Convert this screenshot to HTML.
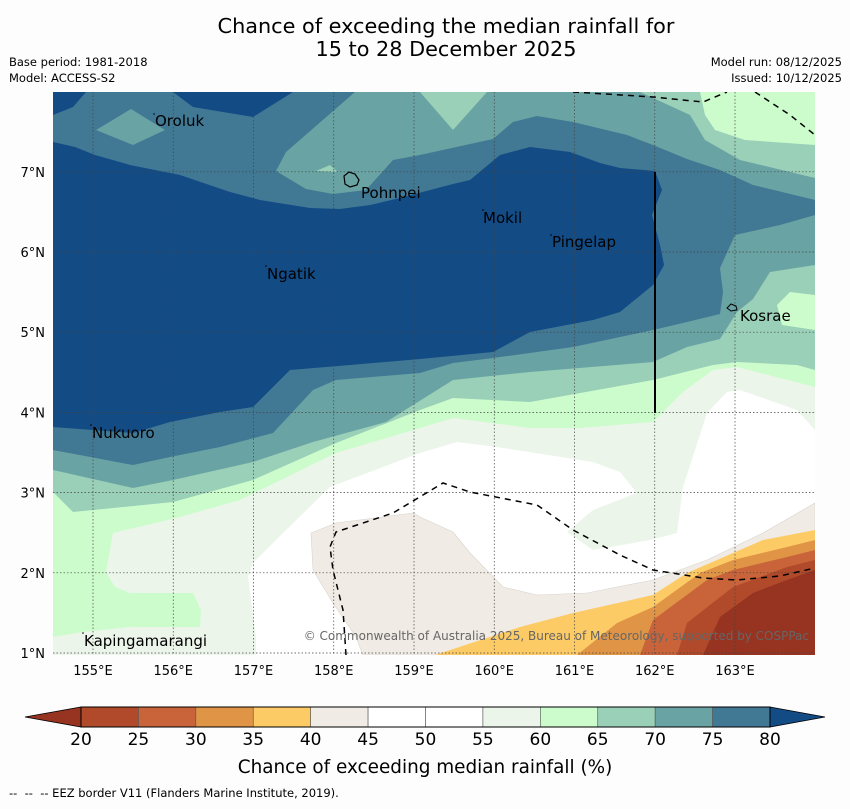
<!DOCTYPE html>
<html><head><meta charset="utf-8">
<style>
body{margin:0;background:#fdfdfd;}
svg text{font-family:"DejaVu Sans","Liberation Sans",sans-serif;}
</style></head>
<body>
<svg id="chart" width="850" height="804" viewBox="0 0 850 804" xmlns="http://www.w3.org/2000/svg">
<rect width="850" height="804" fill="#fdfdfd"/>
<text x="446" y="33" font-size="20.8" text-anchor="middle">Chance of exceeding the median rainfall for</text>
<text x="446" y="56" font-size="20.8" text-anchor="middle">15 to 28 December 2025</text>
<text x="9" y="66" font-size="11.5">Base period: 1981-2018</text>
<text x="9" y="82" font-size="11.5">Model: ACCESS-S2</text>
<text x="842" y="66" font-size="11.5" text-anchor="end">Model run: 08/12/2025</text>
<text x="842" y="82" font-size="11.5" text-anchor="end">Issued: 10/12/2025</text>
<defs><clipPath id="mapclip"><rect x="53" y="92" width="762" height="563"/></clipPath></defs>
<g id="map" clip-path="url(#mapclip)">
<rect x="53" y="92" width="762" height="563" fill="#ffffff"/>
<polygon fill="#ecf5ea" points="53,92 815,92 815,430 797,410 740,390 727,392 707,413 683,487 677,533 650,540 593,550 567,532 593,510 637,493 620,472 593,462 497,447 457,442 420,453 330,487 283,533 253,563 248,577 256,637 256,655 53,655"/>
<polygon fill="#ccfccc" points="53,92 815,92 815,387 737,367 713,370 683,392 653,422 580,428 530,428 453,418 420,428 336,453 240,500 176,518 113,533 106,572 115,587 130,593 193,593 201,610 200,627 130,627 83,632 53,637"/>
<polygon fill="#9acfb8" points="53,92 700,92 705,115 715,130 745,140 815,145 815,295 790,292 777,305 782,325 815,330 815,370 797,365 737,362 713,365 653,380 530,402 453,398 420,410 336,443 253,480 173,502 73,512 53,492"/>
<polygon fill="#6aa3a3" points="53,92 420,92 453,130 487,92 640,92 690,115 705,140 740,160 815,178 815,265 770,272 753,299 737,312 720,339 687,347 653,362 530,372 453,380 386,422 313,442 253,462 173,480 133,488 53,470"/>
<polygon fill="#417894" points="53,92 355,92 286,152 276,171 306,189 333,194 366,190 393,160 420,155 493,139 513,122 537,116 573,122 627,135 653,145 687,159 720,170 753,185 815,200 815,215 780,225 735,235 720,268 723,292 720,314 687,322 653,330 573,347 493,358 453,363 420,373 336,380 313,390 273,433 220,447 170,457 133,465 53,450"/>
<polygon fill="#6aa3a3" points="96,130 131,109 165,130 133,145"/>
<polygon fill="#9acfb8" points="316,171 330,165 338,172"/>
<polygon fill="#134b85" points="53,142 75,147 95,155 130,165 180,175 230,192 260,200 310,208 340,209 370,205 400,198 453,184 470,180 500,155 530,147 570,152 600,163 620,168 655,171 662,190 652,215 660,245 664,265 653,285 620,312 593,320 530,332 493,352 420,359 350,365 290,370 253,407 220,412 170,422 133,433 53,427"/>
<polygon fill="#134b85" points="53,92 86,92 73,107 53,115"/>
<polygon fill="#134b85" points="173,92 193,107 253,117 293,92"/>
<polygon fill="#f0ebe5" stroke="#d8d4ce" stroke-width="0.6" points="311,533 336,523 413,513 420,517 453,532 470,553 503,587 537,595 587,593 653,580 680,570 707,560 763,533 815,503 815,655 363,655 356,637 333,603 313,570"/>
<polygon fill="#fdcb66" points="435,655 520,627 573,613 653,595 687,573 733,553 763,540 815,530 815,655"/>
<polygon fill="#e09446" points="577,655 617,623 653,607 700,573 733,560 787,547 815,540 815,655"/>
<polygon fill="#c9643a" points="640,655 653,620 707,580 733,570 787,557 815,550 815,655"/>
<polygon fill="#b04a2a" points="677,655 687,623 733,587 787,567 815,560 815,655"/>
<polygon fill="#963321" points="703,655 720,617 753,593 787,580 815,570 815,655"/>
<g id="grid"></g>
<polyline fill="none" stroke="#000" stroke-width="1.5" stroke-dasharray="6,5" points="573,92 653,97 703,102 727,92"/>
<polyline fill="none" stroke="#000" stroke-width="1.5" stroke-dasharray="6,5" points="755,92 790,115 815,135"/>
<polyline fill="none" stroke="#000" stroke-width="1.5" stroke-dasharray="6,5" points="346,655 343,610 333,570 330,547 336,532 393,513 443,483 470,492 537,505 573,530 620,555 653,570 703,578 737,580 780,576 815,568"/>
<line x1="655" y1="172" x2="655" y2="413" stroke="#000" stroke-width="2"/>
<path d="M344,176 l5,-4 l6,2 l4,6 l-2,5 l-7,2 l-5,-3 z" fill="none" stroke="#000" stroke-width="1.2"/>
<path d="M727,308 l4,-4 l5,2 l1,4 l-6,1 z" fill="none" stroke="#000" stroke-width="1"/>
<g fill="#000">
<circle cx="154" cy="114" r="0.8"/>
<circle cx="483" cy="210" r="0.8"/>
<circle cx="551" cy="235" r="0.8"/>
<circle cx="266" cy="266" r="0.8"/>
<circle cx="91" cy="425" r="0.8"/>
<circle cx="83" cy="633" r="0.8"/>
</g>
<g font-size="15" fill="#000">
<text x="155" y="126">Oroluk</text>
<text x="361" y="198">Pohnpei</text>
<text x="483" y="223">Mokil</text>
<text x="552" y="247">Pingelap</text>
<text x="267" y="279">Ngatik</text>
<text x="740" y="321">Kosrae</text>
<text x="92" y="438">Nukuoro</text>
<text x="84" y="646">Kapingamarangi</text>
</g>
<text x="809" y="640" font-size="12" fill="#666" text-anchor="end">© Commonwealth of Australia 2025, Bureau of Meteorology, supported by COSPPac</text>
</g>
<g id="axes"></g>
<g id="colorbar"></g>
<text x="425" y="773" font-size="18.4" text-anchor="middle">Chance of exceeding median rainfall (%)</text>
<text x="9" y="797" font-size="11.5" xml:space="preserve">--  --  -- EEZ border V11 (Flanders Marine Institute, 2019).</text>
</svg>
<script>
const lonTicks = [155,156,157,158,159,160,161,162,163];
const latTicks = [1,2,3,4,5,6,7];
const cbLevels = [20,25,30,35,40,45,50,55,60,65,70,75,80];
const cbColors = ["#b04a2a","#c9643a","#e09446","#fdcb66","#f0ebe5","#ffffff","#ffffff","#ecf5ea","#ccfccc","#9acfb8","#6aa3a3","#417894"];
const cbUnder = "#963321";
const cbOver = "#134b85";

const NS = "http://www.w3.org/2000/svg";
function lonX(lon){ return 93 + (lon-155)*80.25; }
function latY(lat){ return 653 - (lat-1)*80.2; }
function cbX(v){ return 81 + (v-20)/(80-20)*(770-81); }
function mk(tag, attrs, parent){ const e=document.createElementNS(NS,tag); for(const k in attrs) e.setAttribute(k,attrs[k]); parent.appendChild(e); return e; }

const grid = document.getElementById('grid');
const axes = document.getElementById('axes');
lonTicks.forEach(v=>{
  const l = mk('line',{x1:lonX(v),x2:lonX(v),y1:92,y2:655,stroke:'#444','stroke-width':0.7,'stroke-dasharray':'1.5,2'},grid);
  
  
  const t = mk('text',{x:lonX(v),y:675,'font-size':13,'text-anchor':'middle'},axes);
  t.textContent = v+'°E';
  
  
});
latTicks.forEach(v=>{
  const l = mk('line',{x1:53,x2:815,y1:latY(v),y2:latY(v),stroke:'#444','stroke-width':0.7,'stroke-dasharray':'1.5,2'},grid);
  
  
  const t = mk('text',{x:45,y:latY(v)+5,'font-size':13,'text-anchor':'end'},axes);
  t.textContent = v+'°N';
  
  
});

const cb = document.getElementById('colorbar');
const y0=707, y1=727;
const under = mk('polygon',{points:`25,${(y0+y1)/2} ${cbX(cbLevels[0])},${y0} ${cbX(cbLevels[0])},${y1}`,fill:cbUnder,stroke:'#000','stroke-width':0.8},cb);


const last = cbLevels[cbLevels.length-1];
const over = mk('polygon',{points:`${cbX(last)},${y0} 825,${(y0+y1)/2} ${cbX(last)},${y1}`,fill:cbOver,stroke:'#000','stroke-width':0.8},cb);


cbColors.forEach((c,i)=>{
  const r = mk('rect',{x:cbX(cbLevels[i]),y:y0,width:cbX(cbLevels[i+1])-cbX(cbLevels[i]),height:y1-y0,fill:c,stroke:'#555','stroke-width':0.6},cb);
  
  
});
mk('rect',{x:cbX(cbLevels[0]),y:y0,width:cbX(last)-cbX(cbLevels[0]),height:y1-y0,fill:'none',stroke:'#000','stroke-width':1},cb);
cbLevels.forEach(v=>{
  const t = mk('text',{x:cbX(v),y:745,'font-size':17,'text-anchor':'middle'},cb);
  t.textContent = v;
  
  
});
</script>
</body></html>
